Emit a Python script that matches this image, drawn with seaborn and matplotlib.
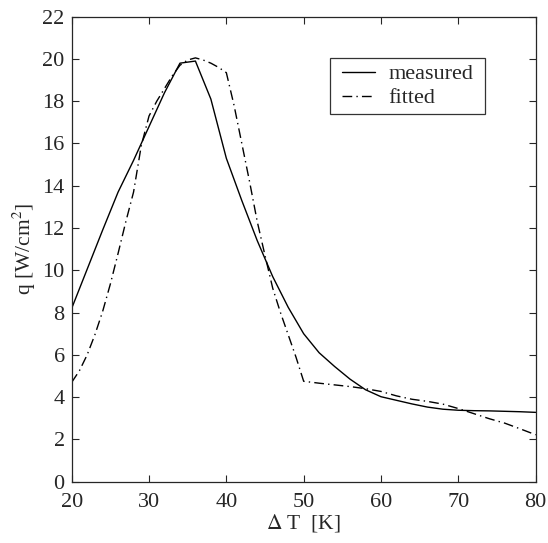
import matplotlib
matplotlib.use("Agg")
import matplotlib.pyplot as plt
from matplotlib.path import Path
import seaborn as sns
import pandas as pd

# ── Données ───────────────────────────────────────────────────────────────
dt_measured = [20, 22, 24, 26, 28, 30, 32, 34, 36, 38, 40, 42, 44, 46, 48, 50,
               52, 54, 56, 58, 60, 62, 64, 66, 68, 70, 72, 74, 76, 78, 80]
q_measured = [8.2, 10.05, 11.9, 13.7, 15.2, 16.8, 18.4, 19.8, 19.9, 18.1, 15.3,
              13.3, 11.4, 9.7, 8.25, 7.0, 6.1, 5.45, 4.85, 4.35, 4.02, 3.85,
              3.68, 3.53, 3.43, 3.38, 3.36, 3.35, 3.33, 3.31, 3.28]

dt_fitted = [20, 21, 22, 23, 24, 25, 26, 27, 28, 29, 30, 31, 32, 33, 34, 35,
             36, 37, 38, 39, 40, 41, 42, 43, 44, 45, 46, 47, 48, 49, 50,
             52, 54, 56, 58, 60, 62, 64, 66, 68, 70, 72, 74, 76, 78, 80]
q_fitted = [4.7, 5.25, 6.0, 6.95, 8.05, 9.35, 10.8, 12.3, 13.7, 15.9, 17.3,
            18.0, 18.6, 19.2, 19.7, 19.95, 20.05, 19.95, 19.8, 19.6, 19.35,
            17.8, 16.0, 14.2, 12.3, 10.7, 9.15, 8.0, 6.95, 5.9, 4.75,
            4.66, 4.58, 4.5, 4.4, 4.27, 4.06, 3.9, 3.8, 3.67, 3.46, 3.22,
            2.98, 2.77, 2.5, 2.22]

x_ticks = [20, 30, 40, 50, 60, 70, 80]
y_ticks = list(range(0, 23, 2))

df_meas = pd.DataFrame({"dT": dt_measured, "q": q_measured})
df_fit = pd.DataFrame({"dT": dt_fitted, "q": q_fitted})

DASHDOT = (7, 3, 1, 3)


def wide_box(x0, y0, width, height, mutation_size):
    # cadre de légende plus large que haut (style matlab)
    px = 0.27 * mutation_size
    return Path([(x0 - px, y0), (x0 + width + px, y0),
                 (x0 + width + px, y0 + height), (x0 - px, y0 + height),
                 (x0 - px, y0)], closed=True)


# ── Figure ────────────────────────────────────────────────────────────────
sns.set_style("ticks")
plt.rcParams["font.family"] = ["Liberation Serif", "DejaVu Serif"]
plt.rcParams["mathtext.fontset"] = "stix"

fig = plt.figure(figsize=(5.48, 5.43), dpi=100)
ax = fig.add_axes([0.1308, 0.1129, 0.8467, 0.8564])

sns.lineplot(data=df_meas, x="dT", y="q", ax=ax, color="black",
             linewidth=1.0, label="measured", sort=False)
sns.lineplot(data=df_fit, x="dT", y="q", ax=ax, color="black",
             linewidth=1.0, label="fitted", sort=False)
ax.lines[1].set_dashes(DASHDOT)

ax.set_xlim(20, 80)
ax.set_ylim(0, 22)
ax.set_xticks(x_ticks)
ax.set_yticks(y_ticks)
ax.tick_params(direction="in", top=True, right=True, length=5,
               width=0.8, labelsize=16)
ax.tick_params(axis="x", pad=8)
ax.tick_params(axis="y", pad=5)
for sp in ax.spines.values():
    sp.set_visible(True)
    sp.set_linewidth(0.9)

ax.set_xlabel(r"$\Delta$ T  [K]", fontsize=15.5, labelpad=0)
ax.set_ylabel(r"q [W/cm$^2$]", fontsize=15.5, labelpad=3)

leg = ax.legend(loc="upper left", bbox_to_anchor=(0.5696, 0.9105),
                borderaxespad=0, fontsize=16, frameon=True, fancybox=False,
                edgecolor="black", handlelength=1.5, borderpad=0.25,
                labelspacing=0.15, handletextpad=0.6)
leg.get_frame().set_linewidth(0.9)
leg.get_frame().set_boxstyle(wide_box)
leg.get_lines()[1].set_dashes(DASHDOT)

fig.savefig("out.png", dpi=100)
